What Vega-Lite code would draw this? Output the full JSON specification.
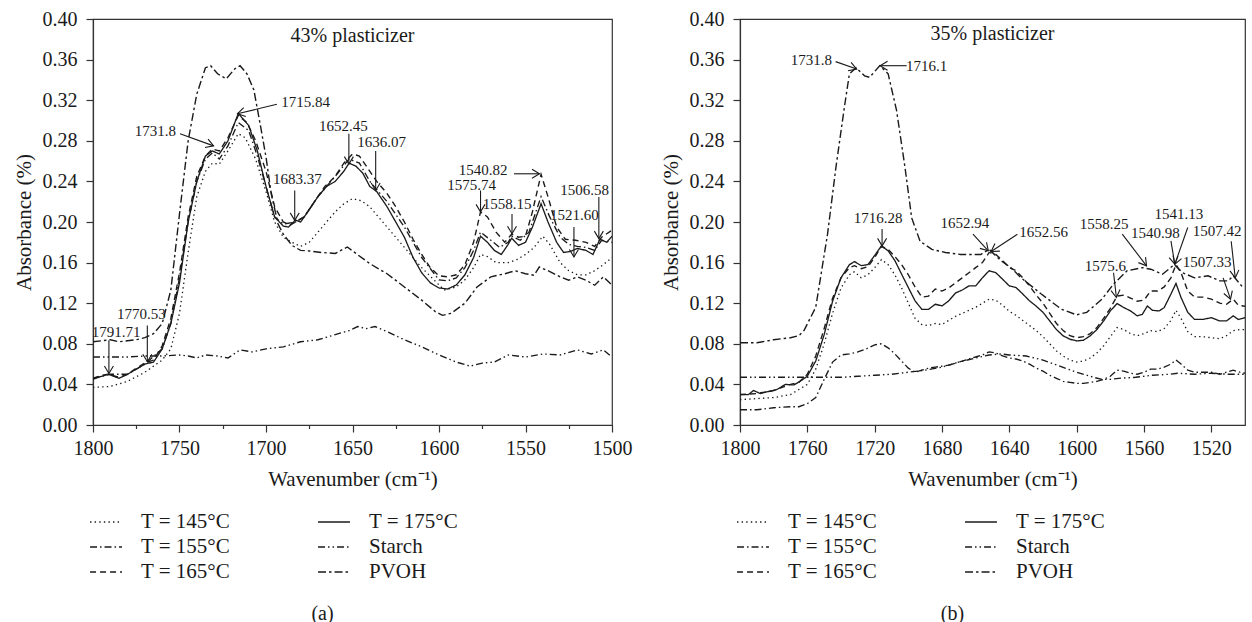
{
  "$schema": "https://vega.github.io/schema/vega-lite/v6.json",
  "padding": {"left": 12, "top": 8, "right": 5, "bottom": 5},
  "spacing": 26,
  "background": "white",
  "config": {
    "font": "Liberation Serif",
    "view": {"stroke": "#333", "strokeWidth": 1.2},
    "axis": {
      "grid": false, "domainColor": "#333", "domainWidth": 1.2, "tickColor": "#333", "tickWidth": 1.2,
      "labelFont": "Liberation Serif", "labelFontSize": 20, "labelColor": "#1a1a1a",
      "titleFont": "Liberation Serif", "titleFontSize": 21, "titleFontWeight": "normal", "titleColor": "#1a1a1a",
      "labelFlush": false, "labelOverlap": false, "labelBound": false
    },
    "title": {"font": "Liberation Serif", "fontSize": 20, "fontWeight": "normal", "color": "#1a1a1a"},
    "text": {"font": "Liberation Serif", "color": "#1a1a1a"}
  },
  "datasets": {
    "curvesA": [
      {"s": "T = 145°C",
       "w": [1800,1790,1780,1770,1765,1760,1755,1750,1745,1740,1735,1731,1727,1722,1716,1712,1706,1700,1695,1690,1685,1680,1675,1670,1665,1660,1655,1650,1645,1640,1635,1630,1620,1610,1600,1597,1590,1585,1580,1576,1572,1567,1560,1555,1550,1545,1540,1536,1530,1525,1520,1515,1510,1505,1500],
       "v": [0.037,0.038,0.043,0.052,0.058,0.064,0.075,0.11,0.17,0.225,0.25,0.258,0.257,0.27,0.287,0.283,0.262,0.23,0.2,0.185,0.18,0.176,0.18,0.19,0.2,0.21,0.218,0.223,0.221,0.215,0.205,0.195,0.175,0.155,0.138,0.133,0.136,0.143,0.155,0.168,0.166,0.16,0.16,0.163,0.168,0.175,0.186,0.178,0.16,0.152,0.148,0.148,0.152,0.158,0.165]},
      {"s": "T = 155°C",
       "w": [1800,1790,1780,1770,1760,1755,1750,1745,1740,1735,1731,1727,1722,1716,1710,1705,1700,1695,1690,1683,1678,1670,1660,1652,1646,1640,1630,1620,1610,1600,1595,1590,1585,1580,1576,1570,1565,1560,1558,1553,1548,1541,1536,1530,1525,1520,1515,1510,1506,1500],
       "v": [0.046,0.05,0.05,0.06,0.075,0.1,0.145,0.2,0.24,0.262,0.268,0.262,0.275,0.298,0.29,0.265,0.235,0.205,0.198,0.2,0.205,0.225,0.245,0.262,0.258,0.24,0.22,0.195,0.165,0.143,0.142,0.145,0.155,0.172,0.19,0.182,0.175,0.18,0.186,0.182,0.19,0.225,0.205,0.185,0.178,0.176,0.175,0.172,0.182,0.18]},
      {"s": "T = 165°C",
       "w": [1800,1795,1791,1785,1780,1775,1770,1765,1760,1755,1750,1745,1740,1735,1731,1727,1722,1716,1711,1706,1700,1695,1690,1686,1683,1678,1672,1666,1660,1655,1650,1646,1642,1636,1630,1625,1620,1615,1610,1605,1600,1595,1590,1585,1580,1576,1572,1567,1562,1558,1554,1550,1546,1541,1537,1532,1527,1521,1515,1510,1506,1500],
       "v": [0.046,0.049,0.05,0.047,0.05,0.056,0.061,0.064,0.078,0.105,0.15,0.205,0.245,0.265,0.272,0.27,0.283,0.305,0.298,0.28,0.25,0.215,0.2,0.197,0.2,0.205,0.22,0.235,0.245,0.258,0.267,0.265,0.255,0.24,0.228,0.215,0.2,0.183,0.168,0.155,0.147,0.146,0.148,0.158,0.18,0.21,0.205,0.19,0.18,0.188,0.185,0.186,0.21,0.247,0.225,0.195,0.183,0.182,0.18,0.176,0.185,0.192]},
      {"s": "T = 175°C",
       "w": [1800,1795,1791,1785,1780,1775,1770,1765,1760,1755,1750,1745,1740,1735,1731,1727,1722,1716,1710,1705,1700,1695,1690,1687,1683,1680,1675,1670,1665,1660,1655,1652,1648,1644,1640,1636,1630,1625,1620,1615,1610,1605,1600,1595,1590,1585,1580,1576,1572,1568,1564,1560,1558,1554,1550,1546,1541,1537,1532,1528,1524,1520,1515,1511,1507,1503,1500],
       "v": [0.045,0.048,0.05,0.046,0.05,0.055,0.06,0.062,0.075,0.1,0.14,0.2,0.24,0.265,0.27,0.267,0.28,0.307,0.295,0.27,0.235,0.205,0.196,0.195,0.202,0.2,0.212,0.225,0.235,0.24,0.25,0.258,0.255,0.248,0.235,0.23,0.215,0.2,0.185,0.165,0.15,0.14,0.135,0.134,0.138,0.148,0.165,0.186,0.18,0.172,0.168,0.178,0.184,0.177,0.18,0.195,0.218,0.2,0.18,0.17,0.171,0.174,0.172,0.168,0.183,0.18,0.186]},
      {"s": "Starch",
       "w": [1800,1790,1780,1770,1760,1750,1745,1740,1735,1728,1722,1715,1708,1700,1690,1680,1670,1660,1652,1647,1642,1637,1630,1620,1610,1600,1590,1582,1575,1568,1560,1550,1540,1530,1520,1512,1505,1500],
       "v": [0.067,0.067,0.067,0.068,0.068,0.069,0.068,0.066,0.069,0.068,0.066,0.074,0.072,0.075,0.077,0.082,0.084,0.089,0.093,0.097,0.095,0.097,0.092,0.084,0.077,0.069,0.062,0.058,0.061,0.062,0.069,0.067,0.07,0.069,0.074,0.07,0.074,0.067]},
      {"s": "PVOH",
       "w": [1800,1790,1785,1775,1770,1765,1760,1755,1750,1745,1740,1735,1732,1728,1723,1718,1715,1711,1707,1703,1700,1697,1693,1690,1685,1680,1675,1668,1660,1653,1648,1640,1630,1620,1610,1602,1598,1593,1585,1578,1570,1562,1556,1550,1545,1542,1537,1530,1525,1520,1515,1510,1505,1500],
       "v": [0.082,0.084,0.082,0.084,0.086,0.09,0.1,0.133,0.208,0.28,0.326,0.352,0.354,0.346,0.341,0.351,0.354,0.346,0.33,0.293,0.264,0.228,0.198,0.188,0.177,0.172,0.1715,0.17,0.169,0.1754,0.169,0.159,0.149,0.136,0.123,0.1115,0.108,0.11,0.12,0.136,0.146,0.149,0.152,0.149,0.1475,0.1557,0.152,0.146,0.1426,0.146,0.1426,0.1377,0.146,0.1377]}
    ],
    "curvesB": [
      {"s": "T = 145°C",
       "w": [1800,1790,1780,1770,1760,1755,1750,1745,1740,1735,1732,1728,1724,1720,1716,1712,1708,1704,1700,1696,1692,1688,1684,1680,1676,1672,1668,1664,1660,1656,1652,1648,1644,1640,1636,1632,1628,1624,1620,1616,1612,1608,1604,1600,1596,1592,1588,1584,1580,1576,1572,1568,1564,1560,1556,1552,1548,1544,1541,1538,1534,1530,1525,1520,1515,1511,1507,1503,1500],
       "v": [0.025,0.026,0.027,0.03,0.04,0.055,0.08,0.11,0.135,0.148,0.151,0.145,0.148,0.155,0.163,0.158,0.148,0.135,0.12,0.105,0.099,0.098,0.1,0.099,0.103,0.107,0.11,0.113,0.116,0.12,0.124,0.123,0.118,0.112,0.108,0.103,0.098,0.093,0.087,0.08,0.073,0.068,0.064,0.062,0.063,0.066,0.071,0.078,0.087,0.096,0.094,0.09,0.088,0.09,0.093,0.092,0.095,0.103,0.113,0.105,0.092,0.087,0.087,0.086,0.085,0.088,0.093,0.094,0.094]},
      {"s": "T = 155°C",
       "w": [1800,1790,1780,1770,1765,1760,1755,1750,1745,1740,1735,1730,1725,1720,1716,1712,1708,1704,1700,1696,1692,1688,1684,1680,1676,1672,1668,1664,1660,1656,1652,1648,1644,1640,1636,1632,1628,1624,1620,1616,1612,1608,1604,1600,1596,1592,1588,1584,1580,1576,1572,1568,1564,1560,1556,1552,1548,1544,1541,1538,1534,1530,1525,1520,1515,1511,1507,1503,1500],
       "v": [0.015,0.015,0.017,0.018,0.018,0.021,0.027,0.045,0.062,0.069,0.07,0.072,0.075,0.079,0.08,0.076,0.07,0.063,0.056,0.052,0.054,0.056,0.057,0.058,0.059,0.061,0.063,0.065,0.067,0.069,0.072,0.071,0.068,0.066,0.065,0.063,0.06,0.056,0.053,0.049,0.046,0.043,0.042,0.041,0.041,0.042,0.043,0.045,0.048,0.054,0.053,0.051,0.05,0.052,0.055,0.055,0.057,0.06,0.064,0.06,0.054,0.052,0.052,0.052,0.05,0.052,0.054,0.052,0.051]},
      {"s": "T = 165°C",
       "w": [1800,1790,1780,1770,1765,1760,1755,1750,1745,1740,1735,1732,1728,1724,1720,1716,1712,1708,1704,1700,1696,1692,1688,1684,1680,1676,1672,1668,1664,1660,1656,1652,1648,1644,1640,1636,1632,1628,1624,1620,1616,1612,1608,1604,1600,1596,1592,1588,1584,1580,1576,1572,1568,1564,1560,1556,1552,1548,1544,1541,1538,1534,1530,1525,1520,1515,1511,1507,1504,1500],
       "v": [0.03,0.031,0.034,0.04,0.042,0.05,0.068,0.095,0.125,0.145,0.155,0.157,0.154,0.156,0.165,0.176,0.173,0.166,0.158,0.148,0.136,0.126,0.127,0.134,0.132,0.135,0.14,0.145,0.15,0.155,0.16,0.17,0.168,0.162,0.155,0.152,0.145,0.137,0.128,0.12,0.11,0.1,0.093,0.088,0.086,0.087,0.09,0.096,0.105,0.115,0.127,0.128,0.125,0.122,0.123,0.132,0.132,0.136,0.145,0.158,0.15,0.132,0.126,0.126,0.124,0.12,0.119,0.124,0.118,0.117]},
      {"s": "T = 175°C",
       "w": [1800,1795,1792,1788,1783,1778,1773,1768,1764,1760,1755,1750,1745,1740,1735,1732,1728,1724,1720,1716,1712,1708,1704,1700,1696,1692,1688,1684,1680,1676,1672,1668,1664,1660,1656,1652,1648,1644,1640,1636,1632,1628,1624,1620,1616,1612,1608,1604,1600,1596,1592,1588,1584,1580,1576,1572,1568,1564,1561,1558,1555,1551,1548,1544,1541,1538,1534,1530,1525,1520,1515,1511,1507,1504,1500],
       "v": [0.03,0.03,0.034,0.031,0.033,0.035,0.04,0.0395,0.0434,0.048,0.063,0.089,0.122,0.145,0.158,0.161,0.157,0.158,0.167,0.1765,0.1716,0.162,0.1486,0.1354,0.1223,0.114,0.114,0.119,0.1173,0.1223,0.13,0.133,0.137,0.137,0.145,0.152,0.15,0.1436,0.137,0.1354,0.129,0.1223,0.117,0.111,0.1025,0.094,0.0878,0.0845,0.0828,0.0835,0.0878,0.094,0.1025,0.1124,0.1196,0.1157,0.1124,0.1075,0.109,0.1173,0.113,0.1124,0.1157,0.129,0.1395,0.1256,0.111,0.104,0.104,0.1058,0.1025,0.1025,0.1075,0.104,0.1058]},
      {"s": "Starch",
       "w": [1800,1790,1780,1770,1760,1750,1740,1730,1720,1710,1700,1690,1680,1670,1660,1652,1645,1640,1630,1620,1610,1600,1590,1585,1580,1575,1565,1555,1545,1540,1530,1520,1510,1500],
       "v": [0.047,0.047,0.047,0.047,0.047,0.047,0.047,0.048,0.049,0.05,0.052,0.054,0.057,0.062,0.066,0.069,0.07,0.069,0.068,0.064,0.058,0.052,0.047,0.045,0.045,0.046,0.047,0.049,0.05,0.051,0.05,0.051,0.05,0.05]},
      {"s": "PVOH",
       "w": [1800,1790,1780,1770,1765,1762,1755,1748,1743,1738,1735,1731,1726,1723,1717,1712,1707,1702,1698,1693,1686,1678,1669,1657,1652,1645,1639,1633,1621,1609,1600,1594,1585,1578,1570,1561,1556,1549,1542,1537,1530,1522,1515,1510,1507,1502,1500],
       "v": [0.081,0.081,0.084,0.086,0.088,0.093,0.116,0.188,0.254,0.313,0.346,0.352,0.344,0.3425,0.354,0.346,0.31,0.254,0.204,0.181,0.173,0.17,0.168,0.168,0.173,0.162,0.155,0.145,0.129,0.114,0.1085,0.111,0.124,0.139,0.152,0.155,0.1535,0.1486,0.158,0.15,0.145,0.147,0.142,0.142,0.147,0.137,0.136]}
    ],
    "notesA": [
      {"t": "1731.8", "tx": 1764.0, "ty": 0.290, "x1": 1749.7, "y1": 0.287, "x2": 1730.3, "y2": 0.275},
      {"t": "1715.84", "tx": 1677.1, "ty": 0.318, "x1": 1693.7, "y1": 0.316, "x2": 1716.5, "y2": 0.3066},
      {"t": "1652.45", "tx": 1655.3, "ty": 0.295, "x1": 1652.1, "y1": 0.287, "x2": 1652.1, "y2": 0.257},
      {"t": "1636.07", "tx": 1633.2, "ty": 0.279, "x1": 1636.6, "y1": 0.270, "x2": 1636.6, "y2": 0.231},
      {"t": "1683.37", "tx": 1681.8, "ty": 0.2426, "x1": 1683.4, "y1": 0.231, "x2": 1683.4, "y2": 0.2016},
      {"t": "1540.82", "tx": 1574.5, "ty": 0.2515, "x1": 1556.7, "y1": 0.2475, "x2": 1541.9, "y2": 0.2475},
      {"t": "1575.74", "tx": 1581.1, "ty": 0.236, "x1": 1576.0, "y1": 0.231, "x2": 1576.0, "y2": 0.21},
      {"t": "1558.15", "tx": 1560.6, "ty": 0.218, "x1": 1557.8, "y1": 0.208, "x2": 1557.8, "y2": 0.1885},
      {"t": "1521.60", "tx": 1521.7, "ty": 0.2066, "x1": 1522.0, "y1": 0.195, "x2": 1522.0, "y2": 0.1656},
      {"t": "1506.58", "tx": 1515.8, "ty": 0.2311, "x1": 1507.6, "y1": 0.2246, "x2": 1507.6, "y2": 0.1836},
      {"t": "1770.53", "tx": 1772.0, "ty": 0.1098, "x1": 1768.6, "y1": 0.098, "x2": 1768.6, "y2": 0.0623},
      {"t": "1791.71", "tx": 1786.6, "ty": 0.0918, "x1": 1790.8, "y1": 0.0836, "x2": 1790.8, "y2": 0.0508}
    ],
    "notesB": [
      {"t": "1731.8", "tx": 1757.6, "ty": 0.3596, "x1": 1743.2, "y1": 0.358, "x2": 1730.7, "y2": 0.3507},
      {"t": "1716.1", "tx": 1689.2, "ty": 0.354, "x1": 1701.0, "y1": 0.354, "x2": 1716.8, "y2": 0.354},
      {"t": "1716.28", "tx": 1718.0, "ty": 0.2038, "x1": 1715.6, "y1": 0.193, "x2": 1715.6, "y2": 0.1765},
      {"t": "1652.94", "tx": 1666.4, "ty": 0.1995, "x1": 1661.6, "y1": 0.188, "x2": 1652.5, "y2": 0.1716},
      {"t": "1652.56", "tx": 1619.7, "ty": 0.1906, "x1": 1635.2, "y1": 0.188, "x2": 1650.8, "y2": 0.171},
      {"t": "1558.25", "tx": 1583.7, "ty": 0.198, "x1": 1572.9, "y1": 0.188, "x2": 1558.5, "y2": 0.1568},
      {"t": "1540.98", "tx": 1553.2, "ty": 0.1896, "x1": 1544.0, "y1": 0.1814, "x2": 1541.7, "y2": 0.1584},
      {"t": "1541.13", "tx": 1539.3, "ty": 0.2077, "x1": 1534.0, "y1": 0.1946, "x2": 1541.7, "y2": 0.1584},
      {"t": "1575.6", "tx": 1582.9, "ty": 0.1568, "x1": 1578.1, "y1": 0.150, "x2": 1576.4, "y2": 0.1256},
      {"t": "1507.33", "tx": 1522.5, "ty": 0.161, "x1": 1513.0, "y1": 0.145, "x2": 1508.6, "y2": 0.124},
      {"t": "1507.42", "tx": 1516.5, "ty": 0.191, "x1": 1508.2, "y1": 0.181, "x2": 1505.8, "y2": 0.145}
    ]
  },
  "resolve": {
    "scale": {"strokeDash": "independent", "strokeWidth": "independent"},
    "legend": {"strokeDash": "independent", "strokeWidth": "independent"}
  },
  "hconcat": [
    {
      "width": 519,
      "height": 406,
      "title": {"text": "(a)", "orient": "bottom", "anchor": "middle", "frame": "bounds", "offset": 22},
      "layer": [
        {
          "data": {"name": "curvesA"},
          "transform": [{"flatten": ["w", "v"]}],
          "mark": {"type": "line", "color": "#1a1a1a", "strokeCap": "butt", "clip": true},
          "encoding": {
            "x": {"field": "w", "type": "quantitative", "title": "Wavenumber (cm⁻¹)",
                  "scale": {"domain": [1500, 1800], "reverse": true, "nice": false, "zero": false},
                  "axis": {"values": [1500,1525,1550,1575,1600,1625,1650,1675,1700,1725,1750,1775,1800], "format": "d",
                           "labelOverlap": false,
                           "labelExpr": "datum.value % 50 == 0 ? format(datum.value, 'd') : ''",
                           "tickSize": {"condition": {"test": "datum.value % 50 == 0", "value": 7}, "value": 3.5},
                           "labelPadding": 6, "titlePadding": 10}},
            "y": {"field": "v", "type": "quantitative", "title": "Absorbance (%)",
                  "scale": {"domain": [0, 0.4], "nice": false, "zero": false},
                  "axis": {"values": [0,0.02,0.04,0.06,0.08,0.1,0.12,0.14,0.16,0.18,0.2,0.22,0.24,0.26,0.28,0.3,0.32,0.34,0.36,0.38,0.4], "format": ".2f",
                           "labelOverlap": false,
                           "labelExpr": "round(datum.value * 100) % 4 == 0 ? datum.label : ''",
                           "tickSize": {"condition": {"test": "round(datum.value * 100) % 4 == 0", "value": 7}, "value": 3.5},
                           "labelPadding": 9, "titlePadding": 8}},
            "strokeDash": {"field": "s", "type": "nominal",
                  "scale": {"domain": ["T = 145°C", "T = 175°C", "T = 155°C", "Starch", "T = 165°C", "PVOH"],
                            "range": [[1.4, 3.2], [1, 0], [7, 3, 1.5, 3], [7, 3, 1.5, 3, 1.5, 3], [6, 4], [8, 3, 2.5, 3]]},
                  "legend": {"title": null, "orient": "bottom", "columns": 2, "columnPadding": 84, "rowPadding": 2,
                             "symbolType": "M-1.33,0H1.33", "symbolSize": 576, "symbolStrokeColor": "#1a1a1a", "symbolFillColor": "transparent",
                             "labelFont": "Liberation Serif", "labelFontSize": 21, "labelColor": "#1a1a1a", "labelOffset": 22, "offset": 20, "labelLimit": 200}},
            "strokeWidth": {"field": "s", "type": "nominal",
                  "scale": {"domain": ["T = 145°C", "T = 175°C", "T = 155°C", "Starch", "T = 165°C", "PVOH"],
                            "range": [1.3, 1.4, 1.1, 1.1, 1.3, 2.4]},
                  "legend": {"title": null, "orient": "bottom", "columns": 2, "columnPadding": 84, "rowPadding": 2,
                             "symbolType": "M-1.33,0H1.33", "symbolSize": 576, "symbolStrokeColor": "#1a1a1a", "symbolFillColor": "transparent",
                             "labelFont": "Liberation Serif", "labelFontSize": 21, "labelColor": "#1a1a1a", "labelOffset": 22, "offset": 20, "labelLimit": 200}}
          }
        },
        {
          "data": {"name": "notesA"},
          "mark": {"type": "rule", "color": "#1a1a1a", "strokeWidth": 1.1},
          "encoding": {
            "x": {"field": "x1", "type": "quantitative", "title": "Wavenumber (cm⁻¹)"},
            "y": {"field": "y1", "type": "quantitative", "title": "Absorbance (%)"},
            "x2": {"field": "x2"},
            "y2": {"field": "y2"}
          }
        },
        {
          "data": {"name": "notesA"},
          "transform": [{"calculate": "atan2((datum.y1 - datum.y2) * 1015, (datum.x1 - datum.x2) * 1.731) * 180 / PI", "as": "ang"}],
          "mark": {"type": "point", "shape": "M-1.5,-0.9L0,0L-1.5,0.9", "filled": false, "size": 100, "color": "#1a1a1a", "strokeWidth": 1.1, "opacity": 1},
          "encoding": {
            "x": {"field": "x2", "type": "quantitative", "title": "Wavenumber (cm⁻¹)"},
            "y": {"field": "y2", "type": "quantitative", "title": "Absorbance (%)"},
            "angle": {"field": "ang", "type": "quantitative", "scale": null}
          }
        },
        {
          "data": {"name": "notesA"},
          "mark": {"type": "text", "fontSize": 15, "align": "center", "baseline": "middle", "color": "#1a1a1a"},
          "encoding": {
            "x": {"field": "tx", "type": "quantitative", "title": "Wavenumber (cm⁻¹)"},
            "y": {"field": "ty", "type": "quantitative", "title": "Absorbance (%)"},
            "text": {"field": "t"}
          }
        },
        {
          "data": {"values": [{"t": "43% plasticizer", "w": 1650, "v": 0.383}]},
          "mark": {"type": "text", "fontSize": 20, "align": "center", "baseline": "middle", "color": "#1a1a1a"},
          "encoding": {
            "x": {"field": "w", "type": "quantitative", "title": "Wavenumber (cm⁻¹)"},
            "y": {"field": "v", "type": "quantitative", "title": "Absorbance (%)"},
            "text": {"field": "t"}
          }
        }
      ]
    },
    {
      "width": 505,
      "height": 406,
      "title": {"text": "(b)", "orient": "bottom", "anchor": "middle", "frame": "bounds", "offset": 22},
      "layer": [
        {
          "data": {"name": "curvesB"},
          "transform": [{"flatten": ["w", "v"]}],
          "mark": {"type": "line", "color": "#1a1a1a", "strokeCap": "butt", "clip": true},
          "encoding": {
            "x": {"field": "w", "type": "quantitative", "title": "Wavenumber (cm⁻¹)",
                  "scale": {"domain": [1500, 1800], "reverse": true, "nice": false, "zero": false},
                  "axis": {"values": [1520,1540,1560,1580,1600,1620,1640,1660,1680,1700,1720,1740,1760,1780,1800], "format": "d",
                           "labelOverlap": false,
                           "labelExpr": "datum.value % 40 == 0 ? format(datum.value, 'd') : ''",
                           "tickSize": {"condition": {"test": "datum.value % 40 == 0", "value": 7}, "value": 3.5},
                           "labelPadding": 6, "titlePadding": 10}},
            "y": {"field": "v", "type": "quantitative", "title": "Absorbance (%)",
                  "scale": {"domain": [0, 0.4], "nice": false, "zero": false},
                  "axis": {"values": [0,0.02,0.04,0.06,0.08,0.1,0.12,0.14,0.16,0.18,0.2,0.22,0.24,0.26,0.28,0.3,0.32,0.34,0.36,0.38,0.4], "format": ".2f",
                           "labelOverlap": false,
                           "labelExpr": "round(datum.value * 100) % 4 == 0 ? datum.label : ''",
                           "tickSize": {"condition": {"test": "round(datum.value * 100) % 4 == 0", "value": 7}, "value": 3.5},
                           "labelPadding": 9, "titlePadding": 8}},
            "strokeDash": {"field": "s", "type": "nominal",
                  "scale": {"domain": ["T = 145°C", "T = 175°C", "T = 155°C", "Starch", "T = 165°C", "PVOH"],
                            "range": [[1.4, 3.2], [1, 0], [7, 3, 1.5, 3], [7, 3, 1.5, 3, 1.5, 3], [6, 4], [8, 3, 2.5, 3]]},
                  "legend": {"title": null, "orient": "bottom", "columns": 2, "columnPadding": 84, "rowPadding": 2,
                             "symbolType": "M-1.33,0H1.33", "symbolSize": 576, "symbolStrokeColor": "#1a1a1a", "symbolFillColor": "transparent",
                             "labelFont": "Liberation Serif", "labelFontSize": 21, "labelColor": "#1a1a1a", "labelOffset": 22, "offset": 20, "labelLimit": 200}},
            "strokeWidth": {"field": "s", "type": "nominal",
                  "scale": {"domain": ["T = 145°C", "T = 175°C", "T = 155°C", "Starch", "T = 165°C", "PVOH"],
                            "range": [1.3, 1.4, 1.1, 1.1, 1.3, 2.4]},
                  "legend": {"title": null, "orient": "bottom", "columns": 2, "columnPadding": 84, "rowPadding": 2,
                             "symbolType": "M-1.33,0H1.33", "symbolSize": 576, "symbolStrokeColor": "#1a1a1a", "symbolFillColor": "transparent",
                             "labelFont": "Liberation Serif", "labelFontSize": 21, "labelColor": "#1a1a1a", "labelOffset": 22, "offset": 20, "labelLimit": 200}}
          }
        },
        {
          "data": {"name": "notesB"},
          "mark": {"type": "rule", "color": "#1a1a1a", "strokeWidth": 1.1},
          "encoding": {
            "x": {"field": "x1", "type": "quantitative", "title": "Wavenumber (cm⁻¹)"},
            "y": {"field": "y1", "type": "quantitative", "title": "Absorbance (%)"},
            "x2": {"field": "x2"},
            "y2": {"field": "y2"}
          }
        },
        {
          "data": {"name": "notesB"},
          "transform": [{"calculate": "atan2((datum.y1 - datum.y2) * 1015, (datum.x1 - datum.x2) * 1.683) * 180 / PI", "as": "ang"}],
          "mark": {"type": "point", "shape": "M-1.5,-0.9L0,0L-1.5,0.9", "filled": false, "size": 100, "color": "#1a1a1a", "strokeWidth": 1.1, "opacity": 1},
          "encoding": {
            "x": {"field": "x2", "type": "quantitative", "title": "Wavenumber (cm⁻¹)"},
            "y": {"field": "y2", "type": "quantitative", "title": "Absorbance (%)"},
            "angle": {"field": "ang", "type": "quantitative", "scale": null}
          }
        },
        {
          "data": {"name": "notesB"},
          "mark": {"type": "text", "fontSize": 15, "align": "center", "baseline": "middle", "color": "#1a1a1a"},
          "encoding": {
            "x": {"field": "tx", "type": "quantitative", "title": "Wavenumber (cm⁻¹)"},
            "y": {"field": "ty", "type": "quantitative", "title": "Absorbance (%)"},
            "text": {"field": "t"}
          }
        },
        {
          "data": {"values": [{"t": "35% plasticizer", "w": 1650, "v": 0.385}]},
          "mark": {"type": "text", "fontSize": 20, "align": "center", "baseline": "middle", "color": "#1a1a1a"},
          "encoding": {
            "x": {"field": "w", "type": "quantitative", "title": "Wavenumber (cm⁻¹)"},
            "y": {"field": "v", "type": "quantitative", "title": "Absorbance (%)"},
            "text": {"field": "t"}
          }
        }
      ]
    }
  ]
}
